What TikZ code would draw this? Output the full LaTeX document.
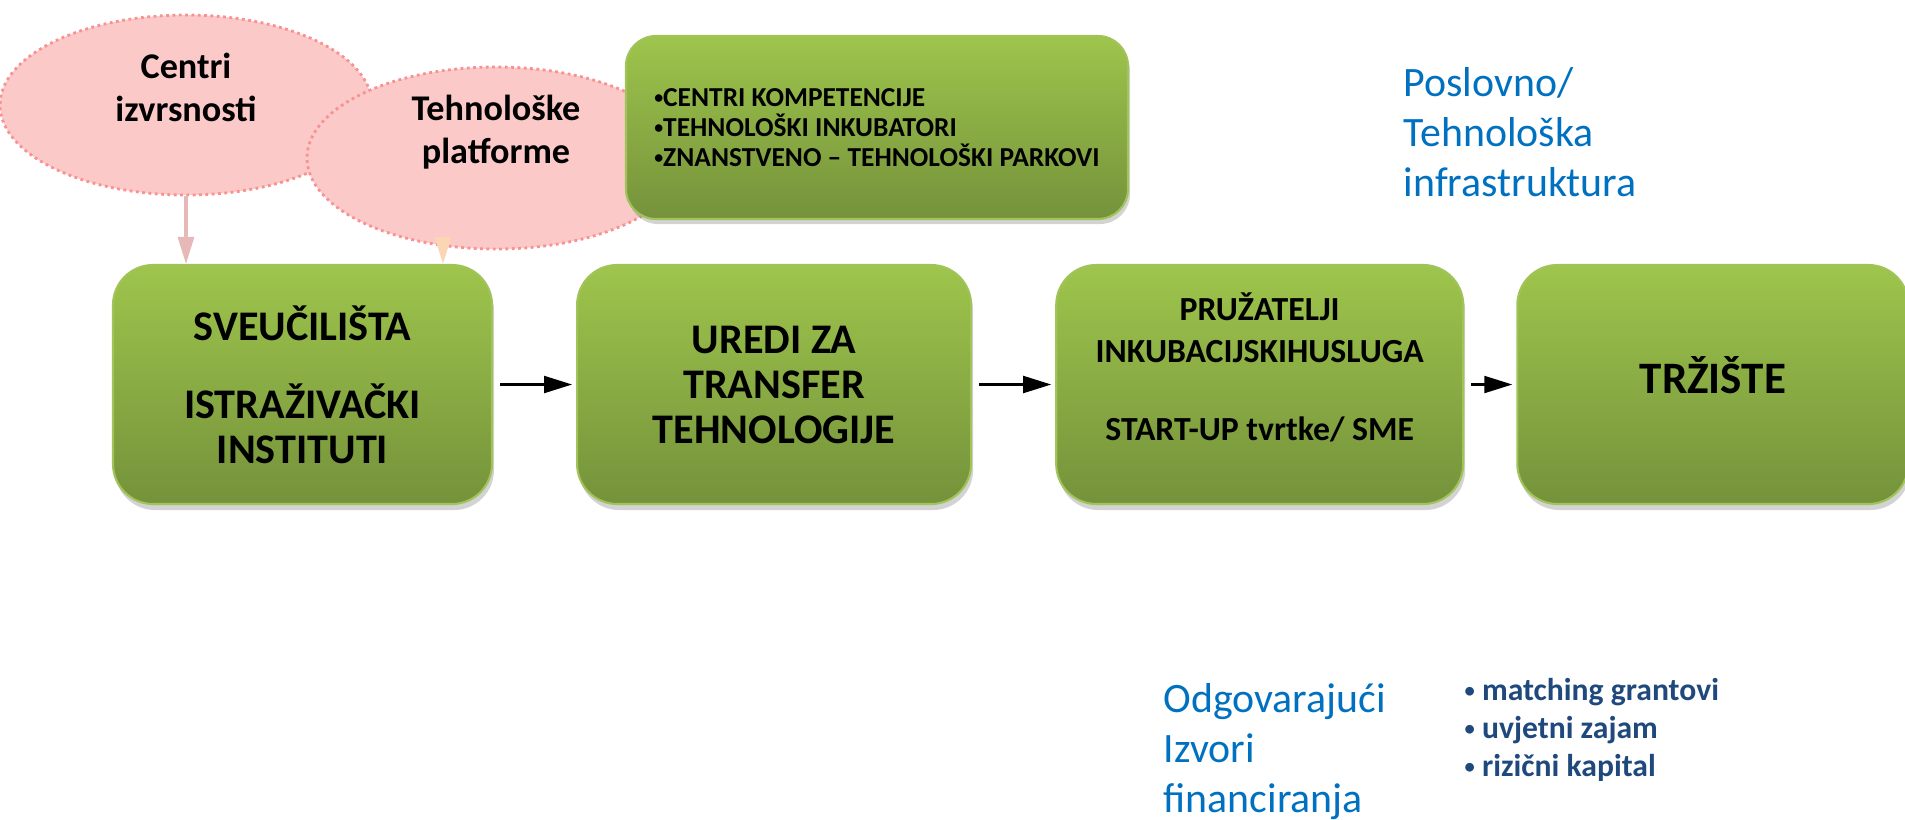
\documentclass[tikz,border=0pt]{standalone}
\usepackage{fontspec}
\setmainfont{Carlito}
\usetikzlibrary{positioning,shapes.geometric,shadows,arrows.meta}

\definecolor{greentop}{RGB}{158,197,76}
\definecolor{greenbot}{RGB}{117,146,59}
\definecolor{greenedge}{RGB}{160,195,90}
\definecolor{pinkfill}{RGB}{252,201,201}
\definecolor{pinkedge}{RGB}{250,145,145}
\definecolor{pinkarrow}{RGB}{230,185,184}
\definecolor{peacharrow}{RGB}{250,214,181}
\definecolor{infoblue}{RGB}{0,112,192}
\definecolor{darkblue}{RGB}{31,73,125}

% small bullet as in the slide
\newcommand{\smallbul}{\raisebox{0.2ex}{\scalebox{0.65}{\textbullet}}}

\tikzset{
  stagebox/.style={rounded corners=0.4cm, top color=greentop, bottom color=greenbot, draw=greenedge, line width=0.6pt,
    minimum height=2.39cm, align=center, font=\fontsize{12}{12.8}\selectfont\bfseries,
    drop shadow={shadow xshift=0.02cm, shadow yshift=-0.06cm, opacity=0.35}},
  cloud/.style={ellipse, fill=pinkfill, draw=pinkedge, densely dotted, line width=0.8pt, inner sep=0pt},
  cloudtext/.style={align=center, font=\fontsize{10.3}{12.2}\selectfont\bfseries},
  flow/.style={line width=0.6pt, -{Triangle[length=0.28cm, width=0.17cm]}, shorten <=0.07cm, shorten >=0.04cm},
  feed/.style={line width=0.9pt, -{Triangle[length=0.27cm, width=0.16cm]}},
  bluetext/.style={anchor=north west, inner sep=0pt, align=left, text=infoblue, font=\fontsize{11.9}{14.2}\selectfont}
}

\begin{document}
\begin{tikzpicture}

\useasboundingbox (0,0) rectangle (19.05,-8.19);

%pink clouds (second one lies over the first)
\node [cloud, minimum width=3.72cm, minimum height=1.8cm] (exc) at (1.86,-1.05) {};
\node [cloud, minimum width=3.78cm, minimum height=1.82cm] (plat) at (4.96,-1.58) {};
\node [cloudtext] (exctxt) at ([yshift=0.18cm]exc.center) {Centri\\izvrsnosti};
\node [cloudtext] (plattxt) at ([yshift=0.26cm]plat.center) {Tehnološke\\platforme};

%green box with the list
\node [rounded corners=0.3cm, top color=greentop, bottom color=greenbot, draw=greenedge, line width=0.6pt,
  minimum width=5.02cm, minimum height=1.83cm, align=left, font=\fontsize{7.8}{8.6}\selectfont\bfseries,
  drop shadow={shadow xshift=0.02cm, shadow yshift=-0.05cm, opacity=0.35}] (infra) at (8.77,-1.275)
  {\smallbul CENTRI KOMPETENCIJE\\\smallbul TEHNOLOŠKI INKUBATORI\\\smallbul ZNANSTVENO – TEHNOLOŠKI PARKOVI};

%the four stages
\node [stagebox, minimum width=3.79cm] (uni) at (3.025,-3.845) {SVEUČILIŠTA\\[0.33cm]ISTRAŽIVAČKI\\INSTITUTI};
\node [stagebox, minimum width=3.94cm, right=0.83cm of uni] (tto) {UREDI ZA\\TRANSFER\\TEHNOLOGIJE};
\node [stagebox, minimum width=4.07cm, right=0.83cm of tto, font=\fontsize{9.6}{12}\selectfont\bfseries, text depth=0.36cm] (inc)
  {PRUŽATELJI\\INKUBACIJSKIHUSLUGA\\[0.36cm]START-UP tvrtke/ SME};
\node [stagebox, minimum width=3.91cm, right=0.52cm of inc, font=\fontsize{12.8}{14}\selectfont\bfseries, text depth=0.2cm] (mkt) {TRŽIŠTE};

%arrows between stages
\draw [flow] (uni) -- (tto);
\draw [flow] (tto) -- (inc);
\draw [flow] (inc) -- (mkt);

%arrows from the clouds
\coordinate (platfoot) at (4.43,-2.52);
\draw [feed, pinkarrow] (exc.south) -- (exc.south |- uni.north);
\draw [feed, peacharrow] (platfoot) -- (platfoot |- uni.north);

%blue captions
\node [bluetext] (infracap) at (14.03,-0.67) {Poslovno/\\Tehnološka\\infrastruktura};
\node [bluetext] (fundcap) at (11.63,-6.83) {Odgovarajući\\Izvori\\financiranja};
\node [bluetext, text=darkblue, font=\fontsize{9}{10.8}\selectfont\bfseries] (fundlist) at (14.64,-6.78)
  {\smallbul\ matching grantovi\\\smallbul\ uvjetni zajam\\\smallbul\ rizični kapital};

\end{tikzpicture}
\end{document}
